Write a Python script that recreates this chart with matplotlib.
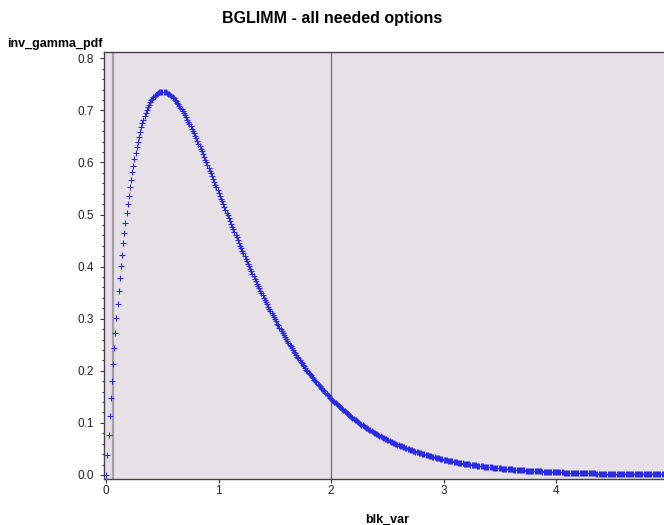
import numpy as np
import matplotlib
matplotlib.use("Agg")
import matplotlib.pyplot as plt
from matplotlib.ticker import MultipleLocator

plt.rcParams['font.family'] = ['Liberation Sans', 'DejaVu Sans']

###################################
# dados
###################################

titulo = 'BGLIMM - all needed options'
rotulo_x = 'blk_var'
rotulo_y = 'inv_gamma_pdf'

# blk_var vai de 0 a 5 com passo 0.01 (501 pontos)
blk_var = np.arange(501) / 100.0

inv_gamma_pdf = [
    0.0000, 0.0392, 0.0769, 0.1130, 0.1477, 0.1810, 0.2129, 0.2434, 0.2727, 0.3007,
    0.3275, 0.3531, 0.3776, 0.4009, 0.4232, 0.4445, 0.4647, 0.4840, 0.5023, 0.5197,
    0.5363, 0.5519, 0.5668, 0.5808, 0.5940, 0.6065, 0.6183, 0.6294, 0.6398, 0.6495,
    0.6586, 0.6671, 0.6749, 0.6822, 0.6890, 0.6952, 0.7009, 0.7061, 0.7109, 0.7151,
    0.7189, 0.7223, 0.7253, 0.7278, 0.7300, 0.7318, 0.7333, 0.7344, 0.7352, 0.7356,
    0.7358, 0.7356, 0.7352, 0.7345, 0.7335, 0.7323, 0.7309, 0.7292, 0.7273, 0.7252,
    0.7229, 0.7204, 0.7177, 0.7148, 0.7118, 0.7086, 0.7052, 0.7017, 0.6981, 0.6944,
    0.6905, 0.6865, 0.6824, 0.6781, 0.6738, 0.6694, 0.6649, 0.6603, 0.6556, 0.6509,
    0.6461, 0.6412, 0.6363, 0.6313, 0.6262, 0.6211, 0.6160, 0.6108, 0.6056, 0.6004,
    0.5951, 0.5898, 0.5844, 0.5791, 0.5737, 0.5684, 0.5630, 0.5576, 0.5522, 0.5468,
    0.5413, 0.5359, 0.5305, 0.5251, 0.5197, 0.5143, 0.5089, 0.5036, 0.4982, 0.4929,
    0.4875, 0.4822, 0.4769, 0.4717, 0.4664, 0.4612, 0.4560, 0.4508, 0.4457, 0.4405,
    0.4354, 0.4304, 0.4253, 0.4203, 0.4154, 0.4104, 0.4055, 0.4006, 0.3958, 0.3910,
    0.3862, 0.3815, 0.3768, 0.3721, 0.3675, 0.3629, 0.3584, 0.3538, 0.3494, 0.3449,
    0.3405, 0.3362, 0.3319, 0.3276, 0.3233, 0.3191, 0.3150, 0.3109, 0.3068, 0.3027,
    0.2987, 0.2948, 0.2908, 0.2870, 0.2831, 0.2793, 0.2755, 0.2718, 0.2681, 0.2645,
    0.2609, 0.2573, 0.2538, 0.2503, 0.2468, 0.2434, 0.2401, 0.2367, 0.2334, 0.2302,
    0.2269, 0.2238, 0.2206, 0.2175, 0.2144, 0.2114, 0.2084, 0.2054, 0.2025, 0.1996,
    0.1967, 0.1939, 0.1911, 0.1884, 0.1856, 0.1830, 0.1803, 0.1777, 0.1751, 0.1725,
    0.1700, 0.1675, 0.1651, 0.1626, 0.1603, 0.1579, 0.1556, 0.1533, 0.1510, 0.1487,
    0.1465, 0.1443, 0.1422, 0.1401, 0.1380, 0.1359, 0.1339, 0.1318, 0.1299, 0.1279,
    0.1260, 0.1241, 0.1222, 0.1203, 0.1185, 0.1167, 0.1149, 0.1132, 0.1114, 0.1097,
    0.1080, 0.1064, 0.1047, 0.1031, 0.1015, 0.1000, 0.0984, 0.0969, 0.0954, 0.0939,
    0.0925, 0.0910, 0.0896, 0.0882, 0.0869, 0.0855, 0.0842, 0.0828, 0.0815, 0.0803,
    0.0790, 0.0778, 0.0765, 0.0753, 0.0741, 0.0730, 0.0718, 0.0707, 0.0696, 0.0685,
    0.0674, 0.0663, 0.0653, 0.0642, 0.0632, 0.0622, 0.0612, 0.0602, 0.0593, 0.0583,
    0.0574, 0.0565, 0.0556, 0.0547, 0.0538, 0.0529, 0.0521, 0.0512, 0.0504, 0.0496,
    0.0488, 0.0480, 0.0472, 0.0465, 0.0457, 0.0450, 0.0442, 0.0435, 0.0428, 0.0421,
    0.0414, 0.0407, 0.0401, 0.0394, 0.0388, 0.0381, 0.0375, 0.0369, 0.0363, 0.0357,
    0.0351, 0.0345, 0.0340, 0.0334, 0.0329, 0.0323, 0.0318, 0.0313, 0.0308, 0.0302,
    0.0297, 0.0293, 0.0288, 0.0283, 0.0278, 0.0274, 0.0269, 0.0265, 0.0260, 0.0256,
    0.0252, 0.0247, 0.0243, 0.0239, 0.0235, 0.0231, 0.0228, 0.0224, 0.0220, 0.0216,
    0.0213, 0.0209, 0.0206, 0.0202, 0.0199, 0.0195, 0.0192, 0.0189, 0.0186, 0.0183,
    0.0180, 0.0177, 0.0174, 0.0171, 0.0168, 0.0165, 0.0162, 0.0159, 0.0157, 0.0154,
    0.0151, 0.0149, 0.0146, 0.0144, 0.0141, 0.0139, 0.0137, 0.0134, 0.0132, 0.0130,
    0.0128, 0.0125, 0.0123, 0.0121, 0.0119, 0.0117, 0.0115, 0.0113, 0.0111, 0.0109,
    0.0108, 0.0106, 0.0104, 0.0102, 0.0100, 0.0099, 0.0097, 0.0095, 0.0094, 0.0092,
    0.0090, 0.0089, 0.0087, 0.0086, 0.0084, 0.0083, 0.0082, 0.0080, 0.0079, 0.0077,
    0.0076, 0.0075, 0.0073, 0.0072, 0.0071, 0.0070, 0.0069, 0.0067, 0.0066, 0.0065,
    0.0064, 0.0063, 0.0062, 0.0061, 0.0060, 0.0059, 0.0058, 0.0057, 0.0056, 0.0055,
    0.0054, 0.0053, 0.0052, 0.0051, 0.0050, 0.0049, 0.0048, 0.0047, 0.0047, 0.0046,
    0.0045, 0.0044, 0.0043, 0.0043, 0.0042, 0.0041, 0.0041, 0.0040, 0.0039, 0.0038,
    0.0038, 0.0037, 0.0036, 0.0036, 0.0035, 0.0035, 0.0034, 0.0033, 0.0033, 0.0032,
    0.0032, 0.0031, 0.0031, 0.0030, 0.0030, 0.0029, 0.0028, 0.0028, 0.0027, 0.0027,
    0.0027, 0.0026, 0.0026, 0.0025, 0.0025, 0.0024, 0.0024, 0.0023, 0.0023, 0.0023,
    0.0022, 0.0022, 0.0021, 0.0021, 0.0021, 0.0020, 0.0020, 0.0020, 0.0019, 0.0019,
    0.0019, 0.0018, 0.0018, 0.0018, 0.0017, 0.0017, 0.0017, 0.0016, 0.0016, 0.0016,
    0.0016, 0.0015, 0.0015, 0.0015, 0.0014, 0.0014, 0.0014, 0.0014, 0.0013, 0.0013,
    0.0013, 0.0013, 0.0013, 0.0012, 0.0012, 0.0012, 0.0012, 0.0011, 0.0011, 0.0011,
    0.0011, 0.0011, 0.0010, 0.0010, 0.0010, 0.0010, 0.0010, 0.0010, 0.0009, 0.0009,
    0.0009,
]

# linhas de referencia verticais
ref_x = [0.06, 2.0]

x_ticks = [0, 1, 2, 3, 4, 5]
y_ticks = [0.0, 0.1, 0.2, 0.3, 0.4, 0.5, 0.6, 0.7, 0.8]

###################################
# grafico
###################################

fig = plt.figure(figsize=(6.64, 5.25), dpi=100)
# a area do grafico passa da borda direita, como no original
ax = fig.add_axes([103.7/664, 46/525, 567.2/664, 427/525])
ax.set_facecolor('#E6E1E6')

ax.axvline(ref_x[0], color='#A4A1A4', lw=1.6, zorder=1)
ax.axvline(ref_x[1], color='#6E6E6E', lw=0.9, zorder=1)

ax.plot(blk_var, inv_gamma_pdf, linestyle='none', marker='+', ms=4.2,
        mew=0.8, color='#2B2BE0', zorder=3)

ax.set_xlim(-0.023, 5.023)
ax.set_ylim(-0.0077, 0.812)
ax.set_xticks(x_ticks)
ax.set_yticks(y_ticks)
ax.set_yticklabels(['%.1f' % v for v in y_ticks])
ax.yaxis.set_minor_locator(MultipleLocator(0.02))

ax.tick_params(axis='both', which='major', direction='out', length=3,
               width=0.8, color='#333333', labelsize=8.5, labelcolor='#222222')
ax.tick_params(axis='x', which='major', pad=1.5)
ax.tick_params(axis='y', which='major', pad=4)
ax.tick_params(axis='y', which='minor', direction='out', length=1.6,
               width=0.8, color='#333333')

for lado in ['left', 'bottom', 'top']:
    ax.spines[lado].set_color('#444444')
    ax.spines[lado].set_linewidth(1.0)
ax.spines['right'].set_visible(False)

ax.set_xlabel(rotulo_x, fontsize=9, fontweight='bold', labelpad=12)
fig.text(7/664, 1 - 44/525, rotulo_y, fontsize=9, fontweight='bold',
         ha='left', va='center')
fig.text(0.5, 1 - 18/525, titulo, fontsize=11.5, fontweight='bold',
         ha='center', va='center')

fig.savefig('out.png', dpi=100)
